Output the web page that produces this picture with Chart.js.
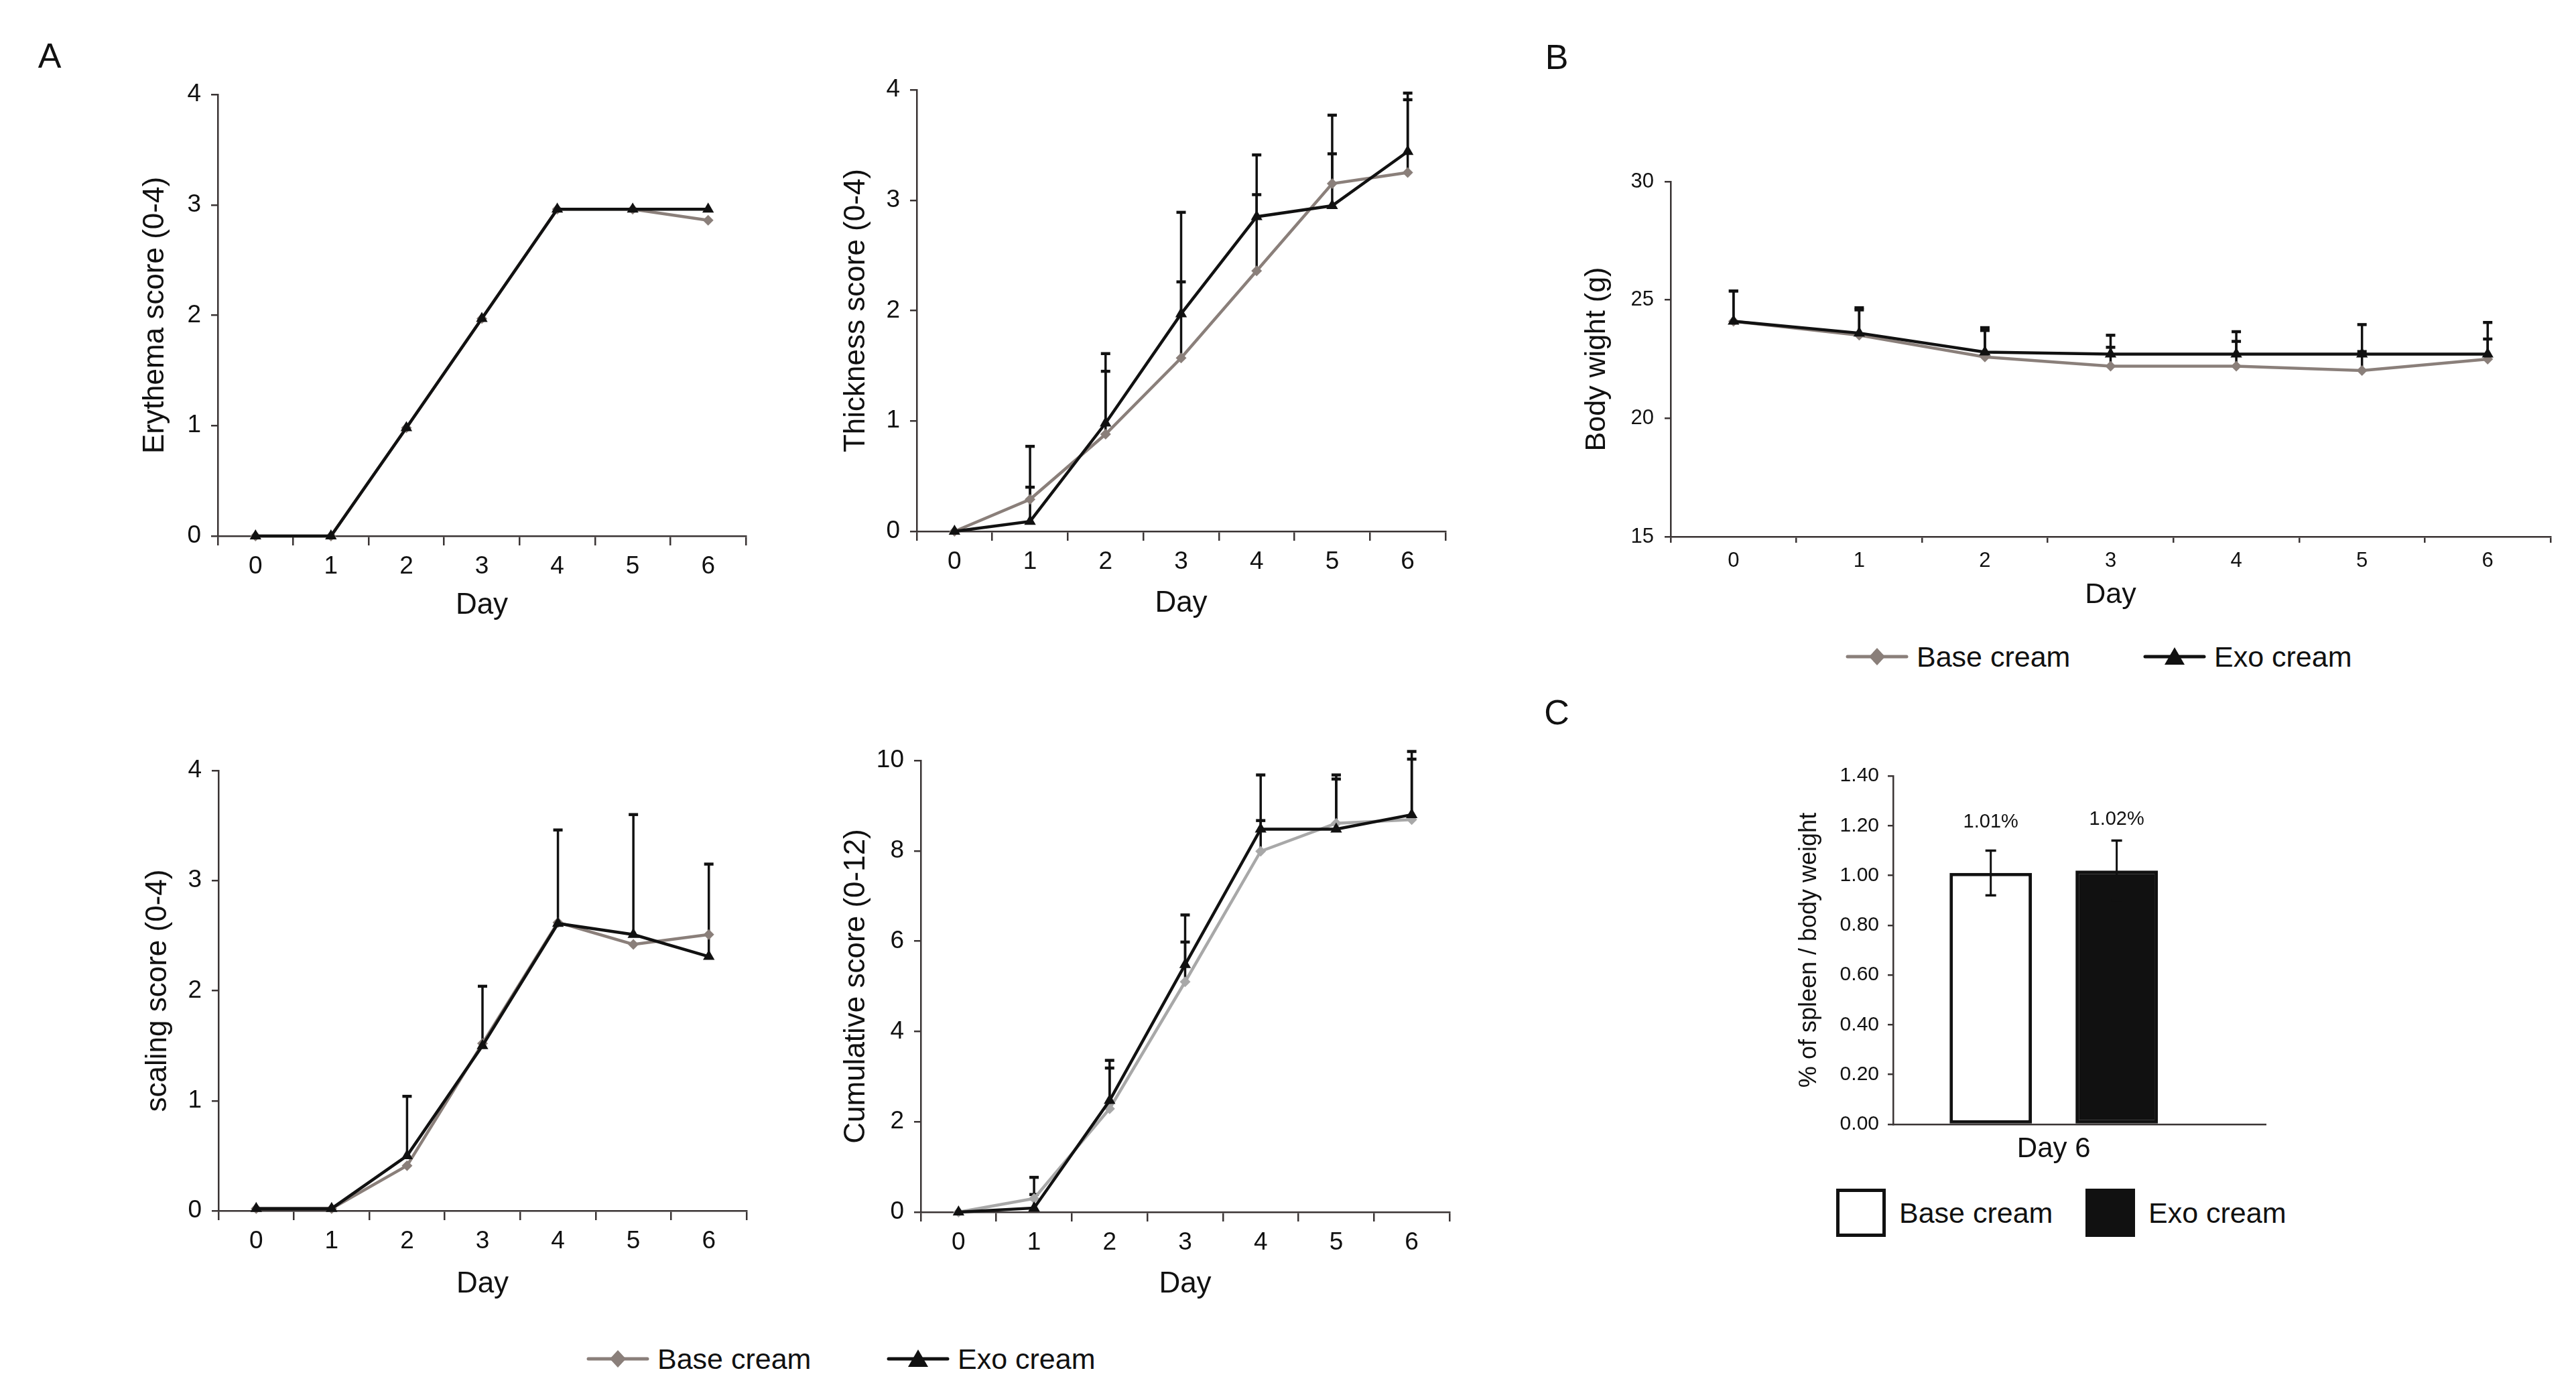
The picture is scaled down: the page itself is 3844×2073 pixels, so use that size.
<!DOCTYPE html>
<html lang="en">
<head>
  <meta charset="UTF-8" />
  <title>Skin scores, body weight and spleen ratio</title>
  <script src="https://cdn.jsdelivr.net/npm/chart.js"></script>
  <style>
    * { margin: 0; padding: 0; box-sizing: border-box; }
    body { background: #fff; font-family: 'Liberation Sans', Arial, sans-serif; color: #111; }
    #page { position: relative; width: 3844px; height: 2073px; overflow: hidden; background: #fff; }
    canvas { position: absolute; }
    .letter { position: absolute; font-size: 52px; transform: translate(-50%, -50%); }
    .leg { position: absolute; display: flex; align-items: center; font-size: 43px; white-space: nowrap; }
    .leg svg { margin-right: 12px; }
  </style>
</head>
<body>
<div id="page">
  <div class="letter" style="left:74px; top:83px">A</div>
  <div class="letter" style="left:2323px; top:85px">B</div>
  <div class="letter" style="left:2323px; top:1063px">C</div>
  <canvas id="ery"></canvas>
  <canvas id="thick"></canvas>
  <canvas id="scal"></canvas>
  <canvas id="cum"></canvas>
  <canvas id="bw"></canvas>
  <canvas id="spleen"></canvas>
</div>

<script>
  // ---- data ----
  const days = ['0', '1', '2', '3', '4', '5', '6'];
  const seriesNames = ['Base cream', 'Exo cream'];

  const erythemaBase = [0, 0, 0.98, 1.97, 2.96, 2.96, 2.86];
  const erythemaExo  = [0, 0, 0.98, 1.97, 2.96, 2.96, 2.96];

  const thicknessBase    = [0, 0.29, 0.88, 1.57, 2.36, 3.15, 3.25];
  const thicknessExo     = [0, 0.09, 0.98, 1.97, 2.85, 2.95, 3.44];
  const thicknessBaseErr = [0, 0.11, 0.57, 0.69, 0.69, 0.27, 0.66];
  const thicknessExoErr  = [0, 0.68, 0.63, 0.92, 0.56, 0.82, 0.53];

  const scalingBase   = [0.02, 0.02, 0.41, 1.52, 2.62, 2.42, 2.51];
  const scalingExo    = [0.02, 0.02, 0.50, 1.50, 2.61, 2.51, 2.31];
  const scalingExoErr = [0, 0, 0.54, 0.54, 0.85, 1.09, 0.84];

  const cumulativeBase    = [0, 0.30, 2.29, 5.10, 7.99, 8.61, 8.69];
  const cumulativeExo     = [0, 0.09, 2.47, 5.48, 8.48, 8.48, 8.80];
  const cumulativeBaseErr = [0, 0.09, 0.90, 0.88, 0.68, 0.98, 1.34];
  const cumulativeExoErr  = [0, 0.68, 0.89, 1.10, 1.20, 1.20, 1.40];

  const weightBase    = [24.10, 23.51, 22.59, 22.20, 22.20, 22.02, 22.50];
  const weightExo     = [24.10, 23.60, 22.80, 22.71, 22.71, 22.71, 22.71];
  const weightBaseErr = [1.28, 1.07, 1.12, 0.80, 1.05, 0.80, 0.85];
  const weightExoErr  = [1.28, 1.07, 1.03, 0.80, 0.95, 1.25, 1.34];

  const spleenCategory = 'Day 6';
  const spleenValues = [1.01, 1.02];
  const spleenErrors = [0.09, 0.12];

  // ---- look ----
  const INK = '#111';
  const AXIS = '#3a3434';
  const BASE_GREY = '#8a7f7a';
  const LIGHT_GREY = '#a8a8a8';

  Chart.defaults.font.family = "'Liberation Sans', Arial, sans-serif";
  Chart.defaults.color = INK;

  // canvas box [left, top, bottom] and plot area [L, T, R, B] in page pixels
  const boxes = {
    ery:    { left: 205,  top: 90,   bottom: 930,  area: [325, 141, 1113, 800] },
    thick:  { left: 1251, top: 90,   bottom: 927,  area: [1368, 134, 2157, 793] },
    scal:   { left: 209,  top: 1100, bottom: 1943, area: [326, 1150, 1114, 1807] },
    cum:    { left: 1251, top: 1090, bottom: 1943, area: [1374, 1135, 2163, 1809] },
    bw:     { left: 2357, top: 220,  bottom: 914,  area: [2493, 271, 3806, 801] },
    spleen: { left: 2678, top: 1110, bottom: 1740, area: [2825, 1158, 3381, 1678] },
  };

  function place(id) {
    const b = boxes[id];
    const [L, T, R, B] = b.area;
    const w = R + 30 - b.left, h = b.bottom - b.top;
    const cv = document.getElementById(id);
    cv.width = w; cv.height = h;
    cv.style.left = b.left + 'px'; cv.style.top = b.top + 'px';
    cv.style.width = w + 'px'; cv.style.height = h + 'px';
    return { cv, padTop: T - b.top, padRight: 30, yWidth: L - b.left, xHeight: b.bottom - B };
  }

  // vertical error bars drawn from the dataset's own "errors" list
  const errorBars = {
    id: 'errorBars',
    draw(chart, opts) {
      const { ctx } = chart;
      const y = chart.scales.y;
      ctx.save();
      ctx.strokeStyle = INK;
      chart.data.datasets.forEach((ds, i) => {
        if (!ds.errors) return;
        chart.getDatasetMeta(i).data.forEach((el, j) => {
          const e = ds.errors[j];
          if (!e) return;
          const d = ds.data[j];
          const v = typeof d === 'object' ? d.y : d;
          const top = y.getPixelForValue(v + e);
          const bot = opts.both ? y.getPixelForValue(v - e) : y.getPixelForValue(v);
          ctx.lineWidth = opts.lineWidth;
          ctx.beginPath();
          ctx.moveTo(el.x, bot); ctx.lineTo(el.x, top);
          ctx.stroke();
          ctx.lineWidth = opts.capWidth;
          ctx.beginPath();
          ctx.moveTo(el.x - opts.cap, top); ctx.lineTo(el.x + opts.cap, top);
          if (opts.both) { ctx.moveTo(el.x - opts.cap, bot); ctx.lineTo(el.x + opts.cap, bot); }
          ctx.stroke();
        });
      });
      ctx.restore();
    },
    beforeDatasetsDraw(chart, args, opts) { if (!opts.front) this.draw(chart, opts); },
    afterDatasetsDraw(chart, args, opts) { if (opts.front) this.draw(chart, opts); },
  };

  function lineChart(id, yTitle, base, baseErr, exo, exoErr, yMin, yMax, yStep, st) {
    const p = place(id);
    return new Chart(p.cv, {
      type: 'line',
      data: {
        labels: days,
        datasets: [
          {
            label: seriesNames[0], data: base, errors: baseErr, order: 1,
            borderColor: st.baseColor, backgroundColor: st.baseColor, borderWidth: 4.5,
            pointStyle: 'rectRot', pointRadius: 8, pointBorderWidth: 0, clip: false,
          },
          {
            label: seriesNames[1], data: exo, errors: exoErr, order: 0,
            borderColor: INK, backgroundColor: INK, borderWidth: 4.5,
            pointStyle: 'triangle', pointRadius: 10, pointBorderWidth: 0, clip: false,
          },
        ],
      },
      options: {
        responsive: false, animation: false, devicePixelRatio: 1,
        layout: { padding: { top: p.padTop, right: p.padRight, left: 0, bottom: 0 } },
        elements: { line: { tension: 0 } },
        plugins: {
          legend: { display: false }, tooltip: { enabled: false },
          errorBars: { front: false, both: false, lineWidth: 3.5, capWidth: 4.5, cap: 7 },
        },
        scales: {
          x: {
            type: 'category', offset: true,
            afterFit: (s) => { s.height = p.xHeight; },
            grid: { offset: true, drawOnChartArea: false, tickLength: st.xTick, color: AXIS, lineWidth: 2.5 },
            border: { color: AXIS, width: 2.5 },
            ticks: { font: { size: st.tickSize }, color: INK, padding: st.xPad, maxRotation: 0 },
            title: { display: true, text: 'Day', font: { size: st.titleSize }, color: INK, padding: 0 },
          },
          y: {
            min: yMin, max: yMax,
            afterFit: (s) => { s.width = p.yWidth; },
            grid: { drawOnChartArea: false, tickLength: st.yTick, color: AXIS, lineWidth: 2.5 },
            border: { color: AXIS, width: 2.5 },
            ticks: { stepSize: yStep, font: { size: st.tickSize }, color: INK, padding: st.yPad },
            title: { display: true, text: yTitle, font: { size: st.titleSize }, color: INK, padding: 0 },
          },
        },
      },
      plugins: [errorBars],
    });
  }

  const scoreStyle = { baseColor: BASE_GREY, tickSize: 37, titleSize: 44, xTick: 14, yTick: 10, xPad: 10, yPad: 15 };
  lineChart('ery', 'Erythema score (0-4)', erythemaBase, null, erythemaExo, null, 0, 4, 1, scoreStyle);
  lineChart('thick', 'Thickness score (0-4)', thicknessBase, thicknessBaseErr, thicknessExo, thicknessExoErr, 0, 4, 1, scoreStyle);
  lineChart('scal', 'scaling score (0-4)', scalingBase, null, scalingExo, scalingExoErr, 0, 4, 1, scoreStyle);
  lineChart('cum', 'Cumulative score (0-12)', cumulativeBase, cumulativeBaseErr, cumulativeExo, cumulativeExoErr, 0, 10, 2,
    Object.assign({}, scoreStyle, { baseColor: LIGHT_GREY }));
  lineChart('bw', 'Body wight (g)', weightBase, weightBaseErr, weightExo, weightExoErr, 15, 30, 5,
    { baseColor: BASE_GREY, tickSize: 31, titleSize: 43, xTick: 9, yTick: 9, xPad: 9, yPad: 16 });

  // ---- C: spleen / body weight bars ----
  const valueLabels = {
    id: 'valueLabels',
    afterDatasetsDraw(chart) {
      const { ctx } = chart;
      ctx.save();
      ctx.font = "29px 'Liberation Sans', Arial, sans-serif";
      ctx.fillStyle = INK;
      ctx.textAlign = 'center';
      ctx.textBaseline = 'middle';
      chart.data.datasets.forEach((ds, i) => {
        chart.getDatasetMeta(i).data.forEach((bar, j) => {
          ctx.fillText(ds.data[j].y.toFixed(2) + '%', bar.x, bar.y - 76);
        });
      });
      ctx.restore();
    },
  };

  const sp = place('spleen');
  new Chart(sp.cv, {
    type: 'bar',
    data: {
      datasets: seriesNames.map((name, i) => ({
        label: name,
        data: [{ x: 0, y: spleenValues[i] }],
        errors: [spleenErrors[i]],
        backgroundColor: i ? INK : '#fff',
        borderColor: INK, borderWidth: 5, borderSkipped: false,
        categoryPercentage: 0.676, barPercentage: 0.654,
      })),
    },
    options: {
      responsive: false, animation: false, devicePixelRatio: 1,
      layout: { padding: { top: sp.padTop, right: sp.padRight, left: 0, bottom: 0 } },
      plugins: {
        legend: { display: false }, tooltip: { enabled: false },
        errorBars: { front: true, both: true, lineWidth: 3, capWidth: 3.5, cap: 8 },
      },
      scales: {
        x: {
          type: 'linear', min: -1, max: 1.32, offset: false,
          afterBuildTicks: (s) => { s.ticks = [{ value: 0 }]; },
          afterFit: (s) => { s.height = sp.xHeight; },
          grid: { display: false, drawTicks: false },
          border: { color: AXIS, width: 2.5 },
          ticks: { callback: () => spleenCategory, font: { size: 42 }, color: INK, padding: 12 },
        },
        y: {
          min: 0, max: 1.4,
          afterFit: (s) => { s.width = sp.yWidth; },
          grid: { drawOnChartArea: false, tickLength: 8, color: AXIS, lineWidth: 2.5 },
          border: { color: AXIS, width: 2.5 },
          ticks: { stepSize: 0.2, font: { size: 30 }, color: INK, padding: 13, callback: (v) => v.toFixed(2) },
          title: { display: true, text: '% of spleen / body weight', font: { size: 36 }, color: INK, padding: 0 },
        },
      },
    },
    plugins: [errorBars, valueLabels],
  });

  // ---- legends ----
  const page = document.getElementById('page');
  function lineIcon(i, color) {
    const mark = i === 0
      ? '<polygon points="47,12 59,25 47,38 35,25" fill="' + color + '"/>'
      : '<polygon points="47,11 62,37 32,37" fill="' + color + '"/>';
    return '<svg width="94" height="50"><line x1="3" y1="25" x2="91" y2="25" stroke="' + color +
      '" stroke-width="5" stroke-linecap="round"/>' + mark + '</svg>';
  }
  function boxIcon(i) {
    return '<svg width="74" height="72" style="margin-right:20px"><rect x="2.5" y="2.5" width="69" height="67" fill="' +
      (i ? INK : '#fff') + '" stroke="' + INK + '" stroke-width="5"/></svg>';
  }
  function legendItem(x, yMid, icon, text) {
    const d = document.createElement('div');
    d.className = 'leg';
    d.style.left = x + 'px';
    d.style.top = (yMid - 36) + 'px';
    d.style.height = '72px';
    d.innerHTML = icon + '<span>' + text + '</span>';
    page.appendChild(d);
  }
  const lineColors = [BASE_GREY, INK];
  [875, 1323].forEach((x, i) => legendItem(x, 2028, lineIcon(i, lineColors[i]), seriesNames[i]));
  [2754, 3198].forEach((x, i) => legendItem(x, 980, lineIcon(i, lineColors[i]), seriesNames[i]));
  [2740, 3112].forEach((x, i) => legendItem(x, 1810, boxIcon(i), seriesNames[i]));
</script>
</body>
</html>
